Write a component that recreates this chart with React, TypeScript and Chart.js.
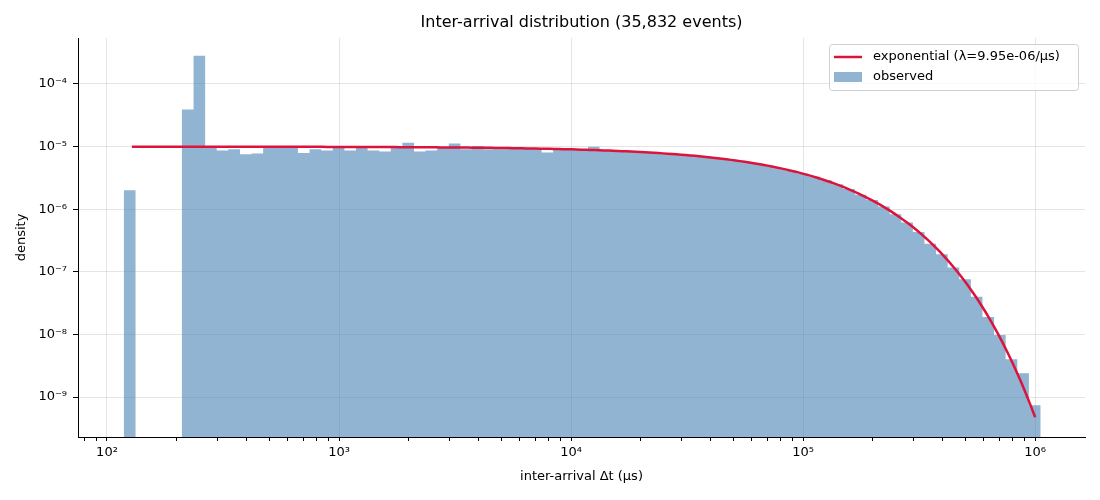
import React, { useEffect, useRef } from "react";
import Chart from "chart.js/auto";

// histogram: 20 log-bins per decade, first edge at 10^2.073 (density per µs)
const binStartLog = 2.073;
const binStepLog = 0.05;
const binDensity: (number | null)[] = [
  2.0e-6, null, null, null, null, 3.9e-5, 2.8e-4, 0.98e-5, 0.86e-5, 0.9e-5,
  0.75e-5, 0.77e-5, 0.98e-5, 0.98e-5, 0.95e-5, 0.79e-5, 0.9e-5, 0.86e-5, 0.97e-5, 0.86e-5,
  0.97e-5, 0.86e-5, 0.83e-5, 0.95e-5, 1.15e-5, 0.83e-5, 0.86e-5, 0.95e-5, 1.12e-5, 0.9e-5,
  1.02e-5, 0.9e-5, 0.9e-5, 9.4e-6, 9.3e-6, 9.3e-6, 8.0e-6, 9.1e-6, 9.0e-6, 8.9e-6,
  9.9e-6, 8.6e-6, 8.5e-6, 8.3e-6, 8.2e-6, 8.0e-6, 7.8e-6, 7.5e-6, 7.3e-6, 7.0e-6,
  6.7e-6, 6.4e-6, 6.1e-6, 5.7e-6, 5.3e-6, 4.9e-6, 4.5e-6, 4.1e-6, 3.7e-6, 3.3e-6,
  2.9e-6, 2.5e-6, 2.1e-6, 1.7e-6, 1.4e-6, 1.1e-6, 8.3e-7, 6.1e-7, 4.3e-7, 2.8e-7,
  1.9e-7, 1.17e-7, 7.6e-8, 4.0e-8, 1.9e-8, 9.8e-9, 4.0e-9, 2.4e-9, 7.4e-10,
];

// fitted exponential
const lambda = 9.95e-6;
const fitStart = 128;
const fitEnd = 1.0e6;
const fitSamples = 200;

const xRange = [75, 1.64e6];
const yRange = [2.3e-10, 5.4e-4];
const xDecades = [2, 3, 4, 5, 6];
const yDecades = [-9, -8, -7, -6, -5, -4];

const sup: Record<string, string> = {
  "-": "⁻", "0": "⁰", "1": "¹", "2": "²", "3": "³", "4": "⁴", "5": "⁵", "6": "⁶", "7": "⁷", "8": "⁸", "9": "⁹",
};
const pow10 = (e: number) => "10" + String(e).split("").map((c) => sup[c]).join("");

const BAR = "rgba(70,130,180,0.6)";
const LINE = "#dc143c";
const FONT = "DejaVu Sans";

export default function App() {
  const canvasRef = useRef<HTMLCanvasElement | null>(null);

  useEffect(() => {
    document.body.style.margin = "0";
    const ctx = canvasRef.current?.getContext("2d");
    if (!ctx) return;

    const fit: { x: number; y: number }[] = [];
    for (let i = 0; i < fitSamples; i++) {
      const t = Math.pow(10, Math.log10(fitStart) + (i / (fitSamples - 1)) * (Math.log10(fitEnd) - Math.log10(fitStart)));
      fit.push({ x: t, y: lambda * Math.exp(-lambda * t) });
    }

    const isDecade = (v: number) => Math.abs(Math.log10(v) - Math.round(Math.log10(v))) < 1e-6;

    const histPlugin = {
      id: "hist",
      beforeDatasetsDraw(chart: any) {
        const { ctx, scales, chartArea } = chart;
        ctx.save();
        ctx.beginPath();
        ctx.rect(chartArea.left, chartArea.top, chartArea.width, chartArea.height);
        ctx.clip();
        ctx.fillStyle = BAR;
        const base = scales.y.getPixelForValue(yRange[0]);
        ctx.beginPath();
        binDensity.forEach((v, i) => {
          if (v == null) return;
          const x0 = scales.x.getPixelForValue(Math.pow(10, binStartLog + binStepLog * i));
          const x1 = scales.x.getPixelForValue(Math.pow(10, binStartLog + binStepLog * (i + 1)));
          const y = scales.y.getPixelForValue(v);
          ctx.moveTo(x0, base);
          ctx.lineTo(x0, y);
          ctx.lineTo(x1, y);
          ctx.lineTo(x1, base);
          ctx.closePath();
        });
        ctx.fill("nonzero");
        ctx.restore();
      },
      afterDraw(chart: any) {
        const { ctx, chartArea } = chart;
        ctx.save();
        ctx.fillStyle = "#000";
        ctx.textAlign = "center";
        ctx.textBaseline = "middle";
        ctx.font = `16px "${FONT}"`;
        ctx.fillText("Inter-arrival distribution (35,832 events)", (chartArea.left + chartArea.right) / 2, 23);
        ctx.font = `13px "${FONT}"`;
        ctx.fillText("inter-arrival Δt (μs)", (chartArea.left + chartArea.right) / 2, 477);
        ctx.translate(22, (chartArea.top + chartArea.bottom) / 2);
        ctx.rotate(-Math.PI / 2);
        ctx.fillText("density", 0, 0);
        ctx.restore();

        // legend
        ctx.save();
        const lx = 829, ly = 44, lw = 249, lh = 46;
        ctx.fillStyle = "rgba(255,255,255,0.8)";
        ctx.strokeStyle = "#d0d0d0";
        ctx.lineWidth = 1;
        ctx.beginPath();
        ctx.roundRect(lx + 0.5, ly + 0.5, lw, lh, 3);
        ctx.fill();
        ctx.stroke();
        ctx.strokeStyle = LINE;
        ctx.lineWidth = 2.5;
        ctx.beginPath();
        ctx.moveTo(834, 57);
        ctx.lineTo(862, 57);
        ctx.stroke();
        ctx.fillStyle = BAR;
        ctx.fillRect(834, 72, 28, 10);
        ctx.fillStyle = "#000";
        ctx.font = `13px "${FONT}"`;
        ctx.textBaseline = "middle";
        ctx.fillText("exponential (λ=9.95e-06/μs)", 873, 57);
        ctx.fillText("observed", 873, 77);
        ctx.restore();
      },
    };

    const chart = new Chart(ctx, {
      type: "scatter",
      data: {
        datasets: [
          {
            data: fit,
            showLine: true,
            borderColor: LINE,
            borderWidth: 2.5,
            pointRadius: 0,
            fill: false,
          },
        ],
      },
      options: {
        animation: false,
        responsive: false,
        layout: { padding: { top: 38, right: 15, left: 0, bottom: 0 } },
        plugins: { legend: { display: false }, tooltip: { enabled: false } },
        scales: {
          x: {
            type: "logarithmic",
            min: xRange[0],
            max: xRange[1],
            afterBuildTicks(scale: any) {
              const ticks: { value: number }[] = [];
              for (let e = 1; e <= 6; e++)
                for (let m = 1; m <= 9; m++) {
                  const v = m * Math.pow(10, e);
                  if (v >= xRange[0] && v <= xRange[1]) ticks.push({ value: v });
                }
              scale.ticks = ticks;
            },
            afterFit(scale: any) {
              scale.height = 63;
            },
            ticks: {
              autoSkip: false,
              maxRotation: 0,
              color: "#000",
              font: { family: FONT, size: 13 },
              padding: 4,
              callback: (v: any) => {
                const n = Number(v);
                return isDecade(n) && xDecades.includes(Math.round(Math.log10(n))) ? pow10(Math.round(Math.log10(n))) : "";
              },
            },
            grid: {
              color: (c: any) => (c.tick && isDecade(c.tick.value) ? "rgba(0,0,0,0.1)" : "rgba(0,0,0,0)"),
              tickColor: "#000",
              tickLength: 4,
            },
            border: { display: true, color: "#000", width: 1 },
          },
          y: {
            type: "logarithmic",
            min: yRange[0],
            max: yRange[1],
            afterBuildTicks(scale: any) {
              scale.ticks = yDecades.map((e) => ({ value: Math.pow(10, e) }));
            },
            afterFit(scale: any) {
              scale.width = 78;
            },
            ticks: {
              autoSkip: false,
              color: "#000",
              font: { family: FONT, size: 13 },
              padding: 6,
              callback: (v: any) => pow10(Math.round(Math.log10(Number(v)))),
            },
            grid: { color: "rgba(0,0,0,0.1)", tickColor: "#000", tickLength: 5 },
            border: { display: true, color: "#000", width: 1 },
          },
        },
      },
      plugins: [histPlugin],
    });

    return () => chart.destroy();
  }, []);

  return (
    <div style={{ width: 1100, height: 500, background: "#fff" }}>
      <canvas ref={canvasRef} width={1100} height={500}></canvas>
    </div>
  );
}
